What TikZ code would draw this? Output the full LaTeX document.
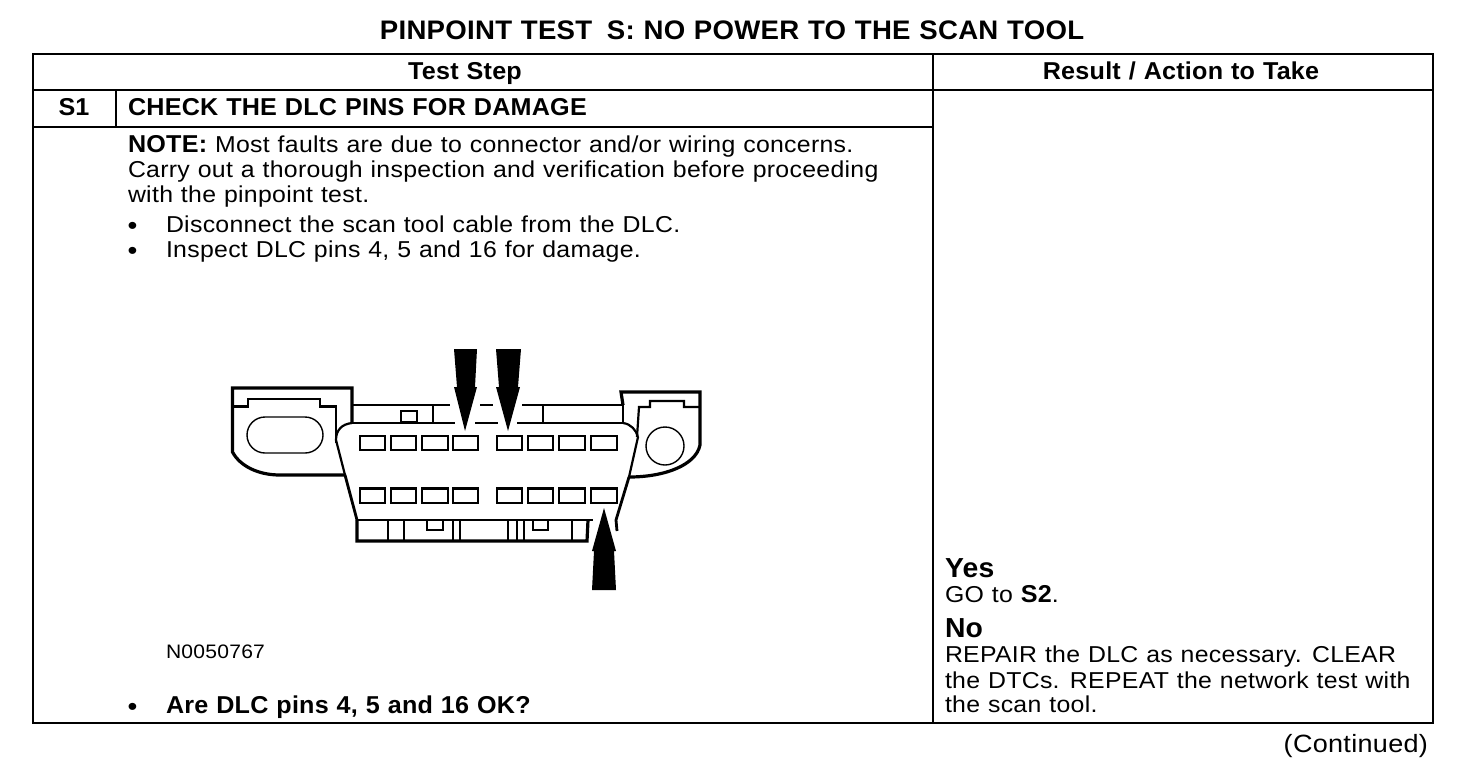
\documentclass[tikz,border=0pt]{standalone}
\usepackage{fontspec}
\setmainfont[FakeStretch=1.08,LetterSpace=1.3,WordSpace=1.1,BoldFeatures={FakeStretch=1.03,LetterSpace=1,WordSpace=1.1}]{Liberation Sans}
\newcommand{\bb}[1]{{\fontsize{24.4}{25}\selectfont\bfseries #1}}
\tikzset{
 tx/.style={anchor=base west,inner sep=0pt,outer sep=0pt,font=\fontsize{23}{25}\selectfont},
 bul/.style={anchor=base west,inner sep=0pt,outer sep=0pt,font=\fontsize{26}{26}\selectfont},
 hd/.style={anchor=base,inner sep=0pt,outer sep=0pt,font=\fontsize{24.4}{25}\selectfont\bfseries},
 yn/.style={anchor=base west,inner sep=0pt,outer sep=0pt,font=\fontsize{27.5}{28}\selectfont\bfseries},
 grid/.style={line width=2pt},
 thick line/.style={line width=3.2pt},
 mid line/.style={line width=2.2pt},
 thin line/.style={line width=1.4pt},
 pin/.style={line width=2.4pt,draw=black},
}
\begin{document}
\begin{tikzpicture}[x=1pt,y=-1pt]
\useasboundingbox (0,0) rectangle (1472,780);
\fill[white] (0,0) rectangle (1472,780);
% table
\draw[grid] (33,54) rectangle (1433,723);
\draw[grid] (33,90) -- (1433,90);
\draw[grid] (33,127) -- (933,127);
\draw[grid] (933,54) -- (933,723);
\draw[grid] (116,90) -- (116,127);
% headings
\node[hd,font=\fontsize{26.8}{28}\selectfont\bfseries] (title) at (732,39.5) {PINPOINT TEST\hspace{6pt} S: NO POWER TO THE SCAN TOOL};
\node[hd] (h1) at (465,79) {Test Step};
\node[hd] (h2) at (1181,79) {Result / Action to Take};
\node[hd] (s1) at (74,115.5) {S1};
\node[hd,anchor=base west] (s1t) at (128,115.5) {CHECK THE DLC PINS FOR DAMAGE};
% note
\node[tx] (n1) at (128,152.5) {\bb{NOTE:} Most faults are due to connector and/or wiring concerns.};
\node[tx] (n2) at (128,177.5) {Carry out a thorough inspection and verification before proceeding};
\node[tx] (n3) at (128,202) {with the pinpoint test.};
\node[bul] (b1) at (127.5,234.5) {•};
\node[tx] (l1) at (166,232) {Disconnect the scan tool cable from the DLC.};
\node[bul] (b2) at (127.5,259) {•};
\node[tx] (l2) at (166,257) {Inspect DLC pins 4, 5 and 16 for damage.};
\node[tx,font=\fontsize{19.5}{21}\selectfont] (code) at (166,658) {N0050767};
\node[bul] (b3) at (127.5,715) {•};
\node[tx] (q) at (166,713) {\bb{Are DLC pins 4, 5 and 16 OK?}};
% results
\node[yn] (yes) at (945,577) {Yes};
\node[tx] (go) at (945,602) {GO to \bb{S2}.};
\node[yn] (no) at (945,637.5) {No};
\node[tx] (r1) at (945,662.5) {REPAIR the DLC as necessary. CLEAR};
\node[tx] (r2) at (945,688) {the DTCs. REPEAT the network test with};
\node[tx] (r3) at (945,712.5) {the scan tool.};
\node[tx,anchor=base east,font=\fontsize{25}{26}\selectfont] (cont) at (1428,752) {(Continued)};
% connector: left ear
\draw[thick line] (352,423) -- (352,388) -- (232.5,388) -- (232.5,452) .. controls (240,466) and (258,475) .. (280,475) -- (345,475);
\draw[mid line] (232,406.5) -- (248,406.5) -- (248,399) -- (320,399) -- (320,406.5) -- (336,406.5) -- (336,443);
\draw[thin line] (265,417) -- (305,417) arc (-90:90:18) -- (265,453) arc (90:270:18) -- cycle;
% rails
\draw[mid line] (352,405) -- (450,405);
\draw[mid line] (352,423) -- (455,423);
\draw[mid line] (480,405) -- (493,405);
\draw[mid line] (475,423) -- (498,423);
\draw[mid line] (522,405) -- (623,405);
\draw[mid line] (517,423) -- (623,423);
\draw[thin line] (433,405) -- (433,423);
\draw[thin line] (543,405) -- (543,423);
\draw[mid line] (401,411) rectangle (417,422);
% body
\draw[mid line] (352,423) .. controls (342,424) and (336,430) .. (336,440) -- (345,475);
\draw[line width=2.8pt] (345,475) -- (357,520);
\draw[mid line] (623,423) .. controls (631,424) and (636,430) .. (638,437);
\draw[mid line] (638,437) -- (629,477);
\draw[line width=2.8pt] (629,477) -- (616,520) -- (617,531);
% right ear
\draw[thick line] (623,405) -- (621,392) -- (700,392) -- (700,445) .. controls (696,465) and (665,477) .. (629,477);
\draw[mid line] (623,405) -- (623,423);
\draw[mid line] (637,437) -- (639,407) -- (650,407) -- (650,401) -- (684,401) -- (684,407) -- (700,407);
\node[circle,draw,line width=1.4pt,minimum size=38pt,inner sep=0pt] (hole) at (665,446) {};
% lower skirt
\draw[mid line] (357,520) -- (593,520);
\draw[thick line] (357,520) -- (357,541) -- (587,541) -- (588,520);
\foreach \x in {388,404,453,460,508,517,524,572} \draw[mid line] (\x,520) -- (\x,541);
\draw[thin line] (427,520) -- (427,530) -- (443,530) -- (443,520);
\draw[thin line] (533,520) -- (533,530) -- (548,530) -- (548,520);
% pins
\foreach \a/\b in {360/385,391/416,422/448,453/478,497/522,528/553,559/585,591/617}{
 \draw[pin] (\a,436) rectangle (\b,450);
 \draw[pin] (\a,488.5) rectangle (\b,503);
}
% arrows
\fill[black] (454,349) -- (477,349) -- (475,387) -- (477,387) -- (465,431) -- (454,387) -- (457,387) -- cycle;
\fill[black] (496,349) -- (521,349) -- (518,387) -- (520,387) -- (508,431) -- (496,387) -- (499,387) -- cycle;
\fill[black] (604,508) -- (616,551) -- (614,551) -- (616,590) -- (592,590) -- (594,551) -- (592,551) -- cycle;
\end{tikzpicture}
\end{document}
